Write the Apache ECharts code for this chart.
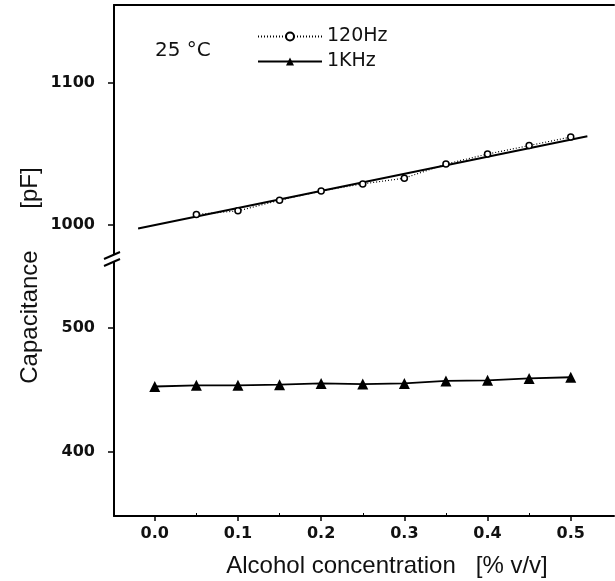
<!DOCTYPE html>
<html>
<head>
<meta charset="utf-8">
<script src="https://cdn.jsdelivr.net/npm/echarts@6/dist/echarts.min.js"></script>
<style>
    html, body { margin: 0; padding: 0; background: #fff; }
    #chart { width: 615px; height: 581px; }
</style>
</head>
<body>
<div id="chart"></div>
<script>
// alcohol concentration [% v/v]
var conc = [0.0, 0.05, 0.1, 0.15, 0.2, 0.25, 0.3, 0.35, 0.4, 0.45, 0.5];
// 120 Hz capacitance (no reading at 0.0)
var cap120 = [null, 1007.5, 1010, 1017.5, 1024, 1029, 1033, 1043, 1050, 1056, 1062];
// 1 KHz capacitance
var cap1k = [452.5, 453.5, 453.5, 454, 455, 454.5, 455, 457, 457.5, 459, 460];
// linear fit through the 120 Hz points, drawn end to end
var fitX = [-0.02, 0.52];
var fitY = [997.5, 1062.5];

var xTicks = [0, 0.1, 0.2, 0.3, 0.4, 0.5];
var xMinor = [0.05, 0.15, 0.25, 0.35, 0.45];
var yTicksTop = [1000, 1100];
var yTicksBottom = [400, 500];

function pairs(xs, ys) {
    var out = [];
    for (var i = 0; i < xs.length; i++) {
        if (ys[i] != null) out.push([xs[i], ys[i]]);
    }
    return out;
}

var FONT = 'Liberation Sans';
var TICKFONT = 'DejaVu Sans';
var INK = '#111';

var chart = echarts.init(document.getElementById('chart'));

var yLabel = function (ticks) {
    return {
        customValues: ticks, margin: 19,
        formatter: function (v) { return String(v); },
        fontFamily: TICKFONT, fontSize: 16, fontWeight: 'bold', color: INK
    };
};

chart.setOption({
    animation: false,
    backgroundColor: '#fff',
    grid: [
        { left: 114, right: 1, top: 5, height: 250 },
        { left: 114, right: 1, top: 262, height: 254 }
    ],
    legend: {
        orient: 'vertical',
        left: 252,
        top: 22,
        itemGap: 6,
        itemWidth: 64,
        itemHeight: 10,
        data: ['120Hz', '1KHz'],
        textStyle: { fontFamily: TICKFONT, fontSize: 19, color: INK }
    },
    xAxis: [
        {
            gridIndex: 0, type: 'value', min: -0.049, max: 0.552, position: 'top',
            axisLine: { show: true, onZero: false, lineStyle: { color: '#000', width: 2 } },
            axisTick: { show: false }, axisLabel: { show: false }, splitLine: { show: false }
        },
        {
            gridIndex: 1, type: 'value', min: -0.049, max: 0.552, position: 'bottom',
            axisLine: { show: true, onZero: false, lineStyle: { color: '#000', width: 2 } },
            axisTick: { show: true, length: 5, customValues: xTicks, lineStyle: { color: '#000', width: 1.5 } },
            axisLabel: {
                customValues: xTicks, margin: 10,
                formatter: function (v) { return v.toFixed(1); },
                fontFamily: TICKFONT, fontSize: 16, fontWeight: 'bold', color: INK
            },
            splitLine: { show: false },
            name: 'Alcohol concentration   [% v/v]',
            nameLocation: 'middle', nameGap: 38,
            nameTextStyle: { fontFamily: FONT, fontSize: 24, color: INK, padding: [0, 0, 0, 46] }
        },
        {
            // minor ticks pointing inward
            gridIndex: 1, type: 'value', min: -0.049, max: 0.552, position: 'bottom',
            axisLine: { show: false },
            axisTick: { show: true, inside: true, length: 3, customValues: xMinor, lineStyle: { color: '#000', width: 1 } },
            axisLabel: { show: false }, splitLine: { show: false }
        }
    ],
    yAxis: [
        {
            gridIndex: 0, type: 'value', min: 978.9, max: 1155,
            axisLine: { show: true, onZero: false, lineStyle: { color: '#000', width: 2 } },
            axisTick: { show: true, length: 6, customValues: yTicksTop, lineStyle: { color: '#000', width: 1.5 } },
            axisLabel: yLabel(yTicksTop),
            splitLine: { show: false }
        },
        {
            gridIndex: 1, type: 'value', min: 348, max: 553,
            axisLine: { show: true, onZero: false, lineStyle: { color: '#000', width: 2 } },
            axisTick: { show: true, length: 6, customValues: yTicksBottom, lineStyle: { color: '#000', width: 1.5 } },
            axisLabel: yLabel(yTicksBottom),
            splitLine: { show: false }
        }
    ],
    series: [
        {
            name: 'fit',
            type: 'line',
            xAxisIndex: 0, yAxisIndex: 0,
            data: pairs(fitX, fitY),
            showSymbol: false,
            lineStyle: { color: '#000', width: 2 },
            z: 1
        },
        {
            name: '120Hz',
            type: 'line',
            xAxisIndex: 0, yAxisIndex: 0,
            data: pairs(conc, cap120),
            symbol: 'circle',
            symbolSize: 6,
            itemStyle: { color: '#fff', borderColor: '#000', borderWidth: 1.5 },
            lineStyle: { color: '#000', width: 1.2, type: [1, 2] },
            z: 2
        },
        {
            name: '1KHz',
            type: 'line',
            xAxisIndex: 1, yAxisIndex: 1,
            data: pairs(conc, cap1k),
            symbol: 'triangle',
            symbolSize: 11,
            itemStyle: { color: '#000' },
            lineStyle: { color: '#000', width: 1.8 },
            z: 2
        }
    ],
    graphic: [
        {
            type: 'text', left: 155, top: 41,
            style: { text: '25 °C', fontFamily: TICKFONT, fontSize: 20, fill: INK }
        },
        {
            type: 'text', x: 30, y: 317, rotation: Math.PI / 2,
            style: {
                text: 'Capacitance', fontFamily: FONT, fontSize: 24, fill: INK,
                align: 'center', verticalAlign: 'middle'
            }
        },
        {
            type: 'text', x: 30, y: 188, rotation: Math.PI / 2,
            style: {
                text: '[pF]', fontFamily: FONT, fontSize: 24, fill: INK,
                align: 'center', verticalAlign: 'middle'
            }
        },
        // axis break
        { type: 'rect', shape: { x: 104, y: 255, width: 20, height: 7 }, style: { fill: '#fff' }, z: 100 },
        { type: 'line', shape: { x1: 104, y1: 259, x2: 120, y2: 252 }, style: { stroke: '#000', lineWidth: 2 }, z: 101 },
        { type: 'line', shape: { x1: 104, y1: 266, x2: 120, y2: 259 }, style: { stroke: '#000', lineWidth: 2 }, z: 101 }
    ]
});
</script>
</body>
</html>
